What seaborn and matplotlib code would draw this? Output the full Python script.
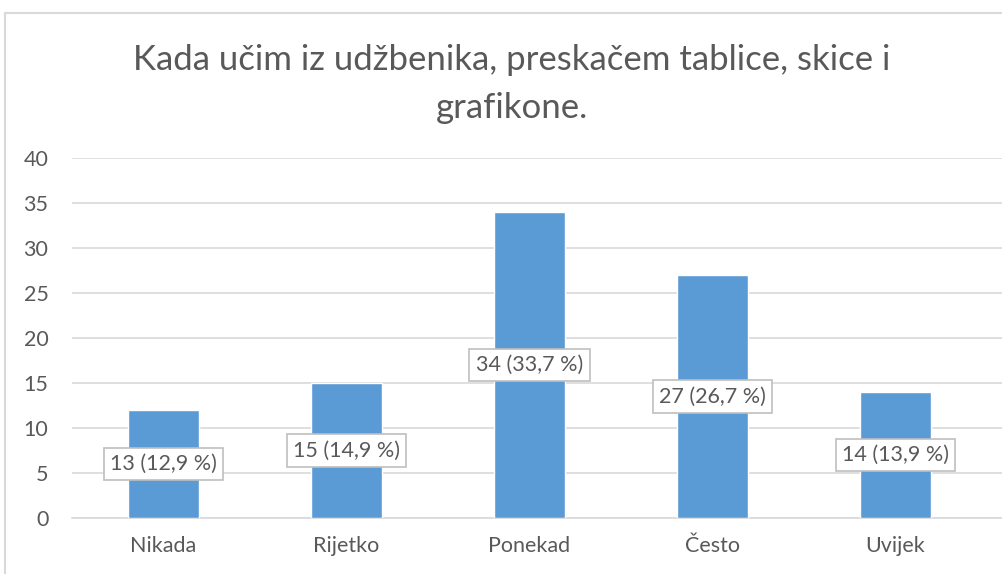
import matplotlib
matplotlib.use("Agg")
import matplotlib.pyplot as plt
import seaborn as sns
import pandas as pd
from matplotlib.patches import Rectangle

# podaci
kategorije = ["Nikada", "Rijetko", "Ponekad", "Često", "Uvijek"]
vrijednosti = [12, 15, 34, 27, 14]
oznake = ["13 (12,9 %)", "15 (14,9 %)", "34 (33,7 %)", "27 (26,7 %)", "14 (13,9 %)"]
naslov = "Kada učim iz udžbenika, preskačem tablice, skice i\ngrafikone."

df = pd.DataFrame({"kategorija": kategorije, "broj": vrijednosti})

sns.set_style("white")
plt.rcParams["font.family"] = ["Lato", "DejaVu Sans"]

W, H = 1003, 574
fig = plt.figure(figsize=(W / 100, H / 100), dpi=100)
ax = fig.add_axes([72 / W, 1 - 518 / H, (1003 - 72) / W, (518 - 158) / H])

sivo = "#595959"
sns.barplot(data=df, x="kategorija", y="broj", color="#5B9BD5", width=0.39,
            saturation=1, ax=ax, zorder=3)

ax.set_ylim(0, 40)
ax.set_yticks(range(0, 41, 5))
ax.set_xlim(-0.5, 4.5 + 16 / 183)
ax.grid(axis="y", color="#D9D9D9", linewidth=1.2, zorder=0)
ax.set_axisbelow(True)
for s in ["top", "right", "left"]:
    ax.spines[s].set_visible(False)
ax.spines["bottom"].set_color("#D9D9D9")
ax.spines["bottom"].set_linewidth(1.2)
ax.set_xlabel("")
ax.set_ylabel("")
ax.tick_params(axis="both", length=0, labelsize=15.5, labelcolor=sivo)
ax.tick_params(axis="y", pad=17)
ax.tick_params(axis="x", pad=13)

for i, (v, t) in enumerate(zip(vrijednosti, oznake)):
    ax.text(i, v / 2, t, ha="center", va="center", fontsize=15.5, color=sivo, zorder=5,
            bbox=dict(boxstyle="square,pad=0.3", fc="white", ec="#BFBFBF", lw=1.2))

fig.text(512 / W, 1 - 84 / H, naslov, ha="center", va="center", fontsize=25,
         color=sivo, linespacing=1.6)

# okvir grafikona
fig.patches.append(Rectangle((5 / W, -0.1), 1.2, 1 - 13 / H + 0.1, transform=fig.transFigure,
                             fill=False, ec="#D9D9D9", lw=1.5))

fig.savefig("out.png", dpi=100)
